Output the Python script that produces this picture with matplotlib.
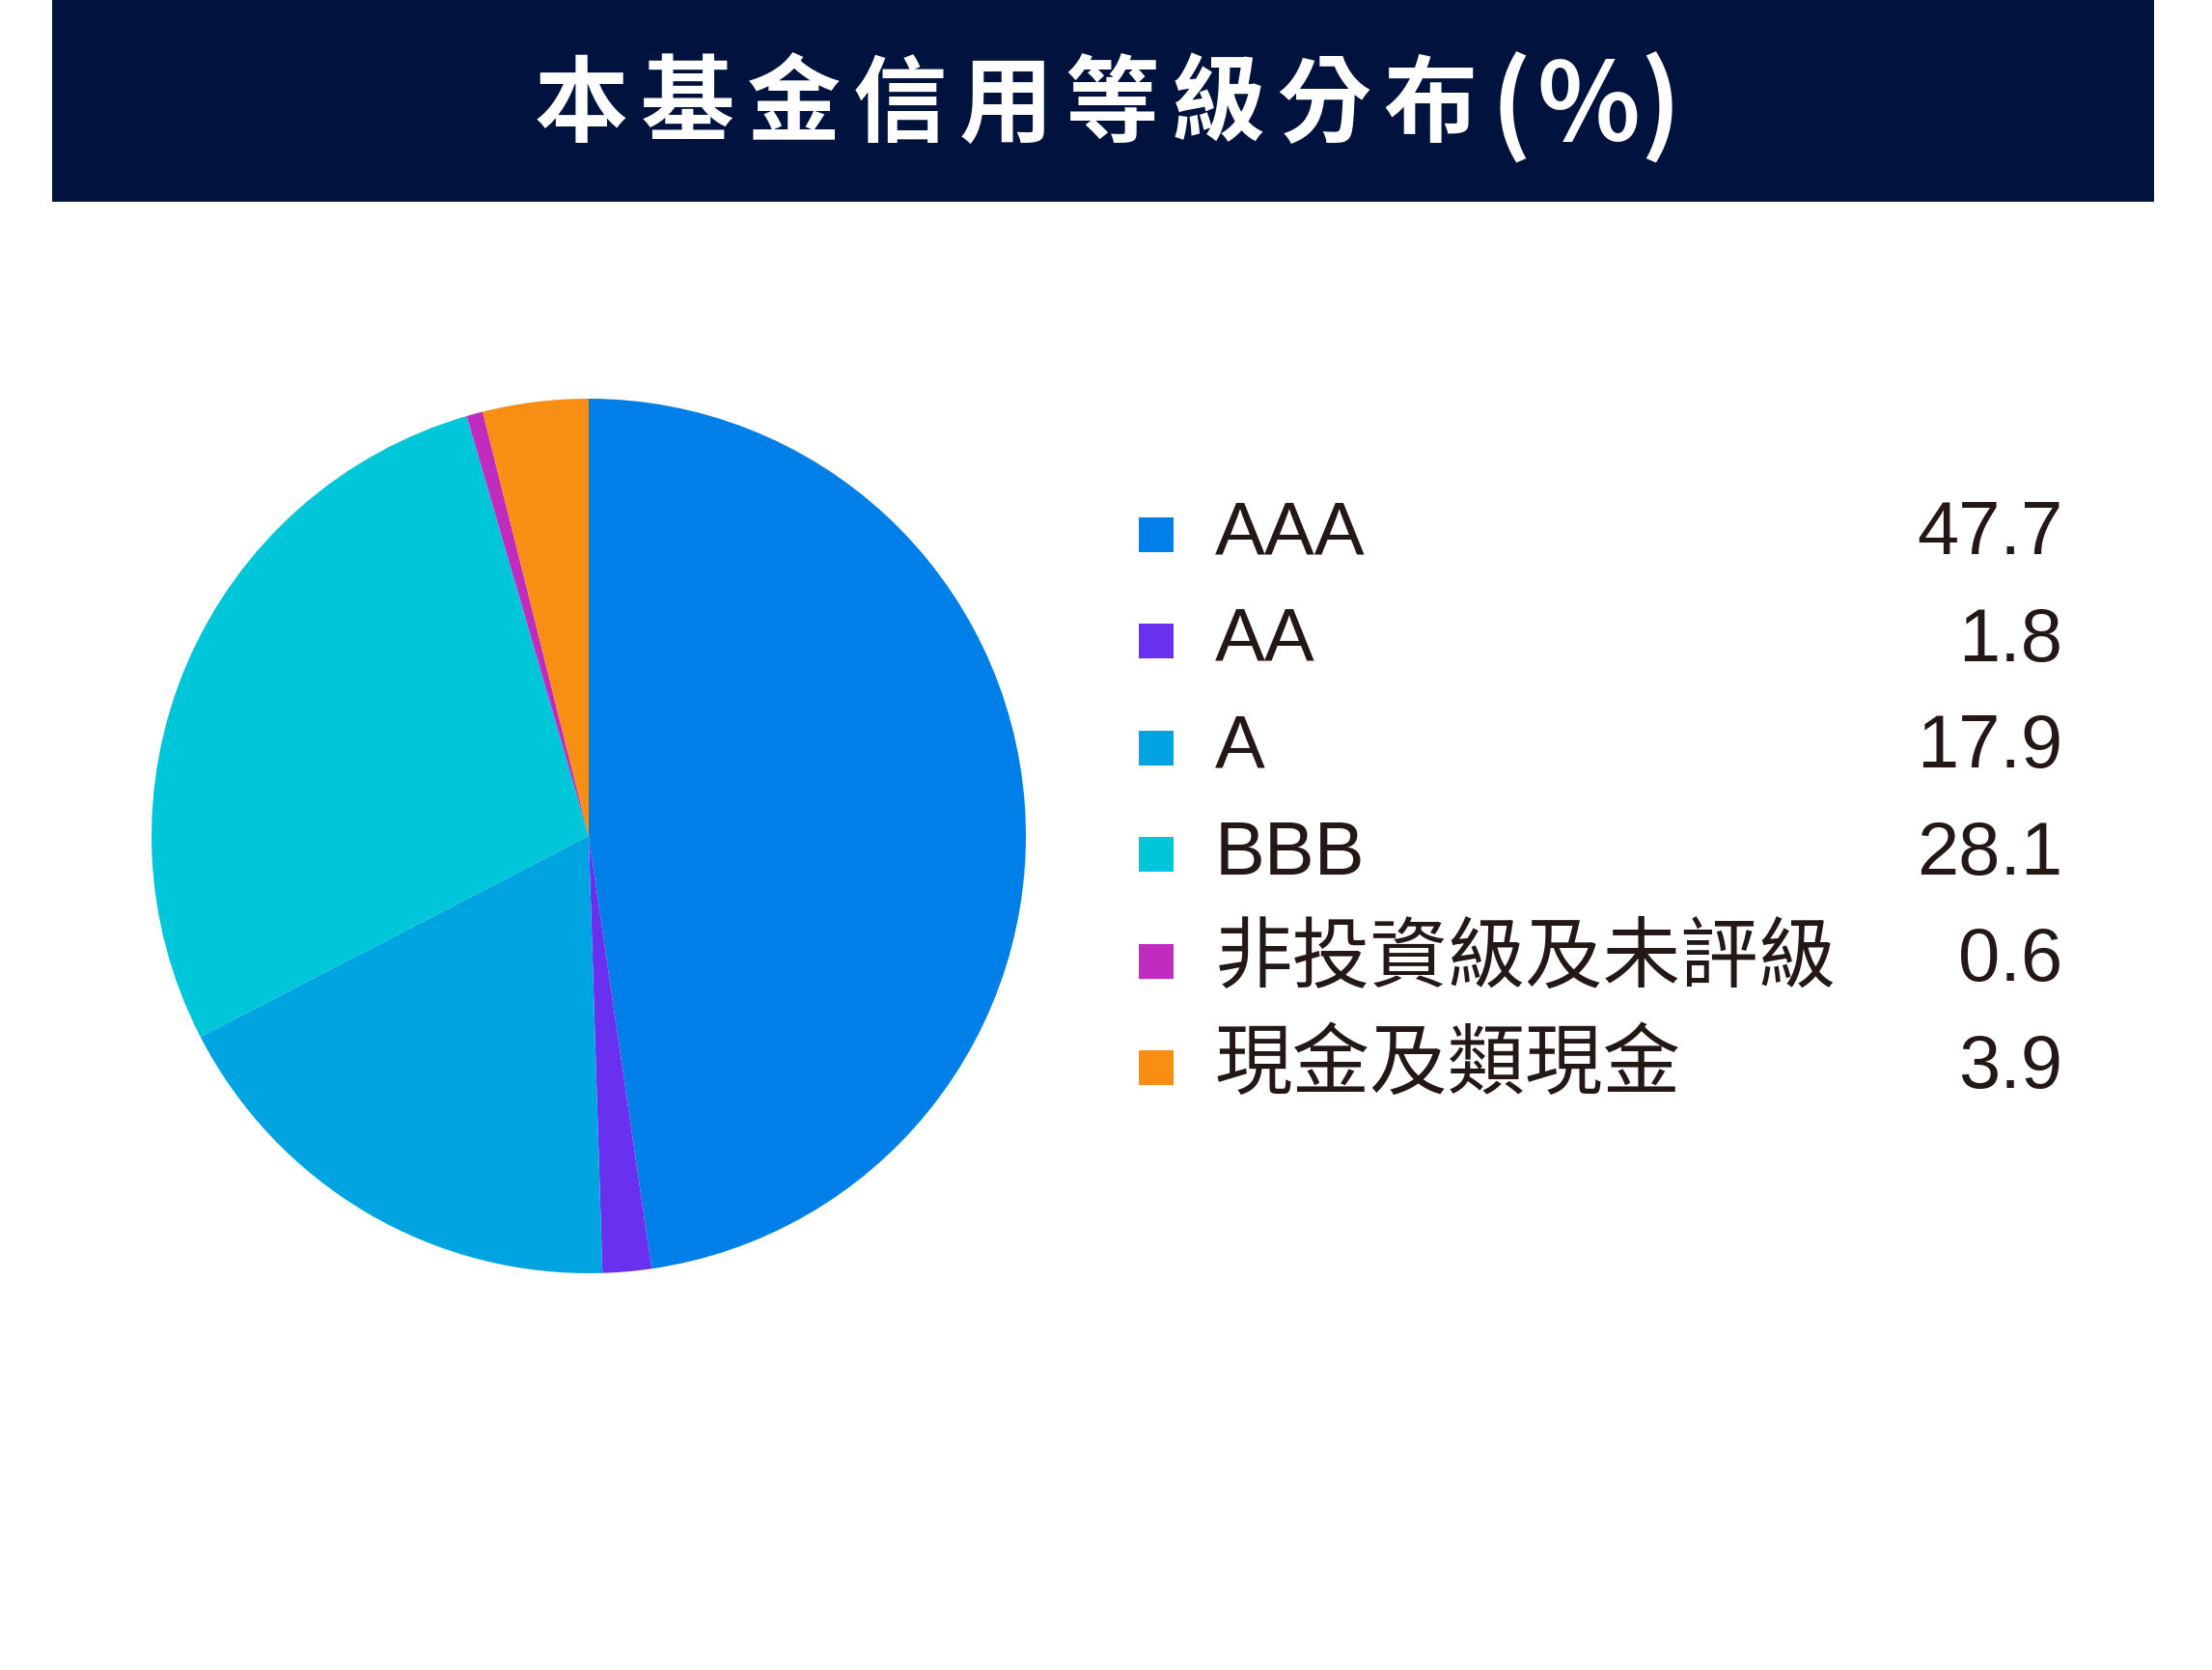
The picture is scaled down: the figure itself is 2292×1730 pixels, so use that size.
import matplotlib
matplotlib.use('Agg')
import matplotlib.pyplot as plt
from matplotlib.patches import Rectangle

# data
labels = ['AAA', 'AA', 'A', 'BBB', '非投資級及未評級', '現金及類現金']
values = [47.7, 1.8, 17.9, 28.1, 0.6, 3.9]
colors = ['#007FE8', '#6A30F0', '#00A4E0', '#00C6DA', '#C02CBE', '#F88E14']
title = '本基金信用等級分布(%)'

W, H = 2292, 1730
fig = plt.figure(figsize=(W / 100, H / 100), dpi=100)
fig.patch.set_facecolor('white')

# overlay in pixel coords for the banner + legend
ov = fig.add_axes([0, 0, 1, 1])
ov.set_xlim(0, W)
ov.set_ylim(H, 0)
ov.axis('off')

ov.add_patch(Rectangle((54, 0), 2178, 209, color='#00133F', lw=0))

# title is letter-spaced in the original, so lay the glyphs out one by one
tfam = ['Noto Sans CJK TC', 'DejaVu Sans']
x = 602
for ch in title:
    if ch in '(%)':
        break
    ov.text(x, 110, ch, color='white', fontsize=70, fontweight='bold',
            family=tfam, ha='center', va='center')
    x += 110
for ch, cxp in zip('(%)', [1566, 1646, 1720]):
    ov.text(cxp, 113, ch, color='white', fontsize=80, fontweight='bold',
            family=tfam, ha='center', va='center')

# pie
cx, cy, r = 610, 866, 453
ax = fig.add_axes([(cx - r) / W, 1 - (cy + r) / H, 2 * r / W, 2 * r / H])
ax.pie(values, colors=colors, startangle=90, counterclock=False,
       wedgeprops=dict(linewidth=0))
ax.set_xlim(-1, 1)
ax.set_ylim(-1, 1)

# legend rows
lfam = ['Liberation Sans', 'Noto Sans CJK TC']
row_y = 554
step = 110.4
for i, (lab, v, c) in enumerate(zip(labels, values, colors)):
    y = row_y + i * step
    ov.add_patch(Rectangle((1180, y - 18), 36, 36, color=c, lw=0))
    fs = 56 if lab.isascii() else 58
    ov.text(1259, y, lab, fontsize=fs, color='#231815',
            family=lfam, ha='left', va='center')
    ov.text(2137, y, f'{v:.1f}', fontsize=56, color='#231815',
            family=lfam, ha='right', va='center')

fig.savefig('out.png', dpi=100)
